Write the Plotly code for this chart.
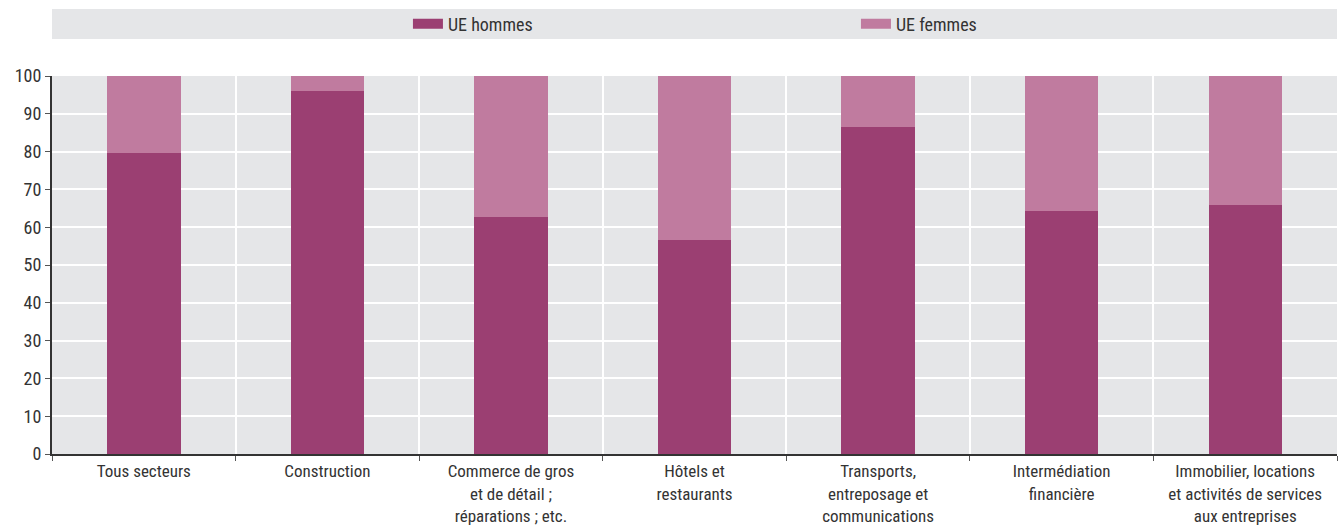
import plotly.graph_objects as go

categories = [
    "Tous secteurs",
    "Construction",
    "Commerce de gros<br>et de détail ;<br>réparations ; etc.",
    "Hôtels et<br>restaurants",
    "Transports,<br>entreposage et<br>communications",
    "Intermédiation<br>financière",
    "Immobilier, locations<br>et activités de services<br>aux entreprises",
]
ue_hommes = [79.6, 96.0, 62.7, 56.6, 86.5, 64.3, 65.9]
ue_femmes = [round(100 - v, 1) for v in ue_hommes]
series_names = ["UE hommes", "UE femmes"]

dark = "#9B3F72"
light = "#C07B9F"
font_family = "Roboto Condensed, Liberation Sans Narrow, Arial Narrow, sans-serif"

fig = go.Figure()
fig.add_trace(go.Bar(x=categories, y=ue_hommes, name=series_names[0], showlegend=False,
                     marker=dict(color=dark, line=dict(width=0))))
fig.add_trace(go.Bar(x=categories, y=ue_femmes, name=series_names[1], showlegend=False,
                     marker=dict(color=light, line=dict(width=0))))
# legend entries drawn as wide swatches
for nm, col in zip(series_names, [dark, light]):
    fig.add_trace(go.Scatter(x=[None], y=[None], mode="lines", name=nm,
                             line=dict(color=col, width=14), hoverinfo="skip"))

fig.update_layout(
    barmode="stack",
    bargap=0.6,
    width=1340,
    height=527,
    margin=dict(l=52, r=3, t=76, b=73, autoexpand=False),
    paper_bgcolor="white",
    plot_bgcolor="#E5E6E8",
    font=dict(family=font_family, size=18, color="#333333"),
    legend=dict(
        orientation="h",
        x=0.277, xanchor="left",
        yref="paper", y=1.1376, yanchor="middle",
        entrywidth=403,
        entrywidthmode="pixels",
        bgcolor="rgba(0,0,0,0)",
        font=dict(size=18),
        traceorder="normal",
    ),
    shapes=[
        dict(type="rect", xref="paper", yref="paper", x0=0, x1=1, y0=1.098, y1=1.177,
             fillcolor="#E5E6E8", line=dict(width=0), layer="below"),
    ],
)

fig.update_xaxes(
    type="category",
    tickson="boundaries",
    showgrid=True,
    gridcolor="white",
    gridwidth=2,
    ticks="outside",
    ticklen=5,
    tickcolor="#555555",
    showline=True,
    linecolor="#333333",
    linewidth=2,
    tickfont=dict(size=17),
    ticklabelstandoff=1,
    automargin=False,
)
fig.update_yaxes(
    range=[0, 100],
    dtick=10,
    showgrid=True,
    gridcolor="white",
    gridwidth=2,
    ticks="outside",
    ticklen=5,
    tickcolor="#555555",
    showline=True,
    linecolor="#333333",
    linewidth=2,
    zeroline=False,
    tickfont=dict(size=18),
    automargin=False,
)

fig.write_html("out.html", config={"displayModeBar": False},
               post_script="document.body.style.margin='0';")
